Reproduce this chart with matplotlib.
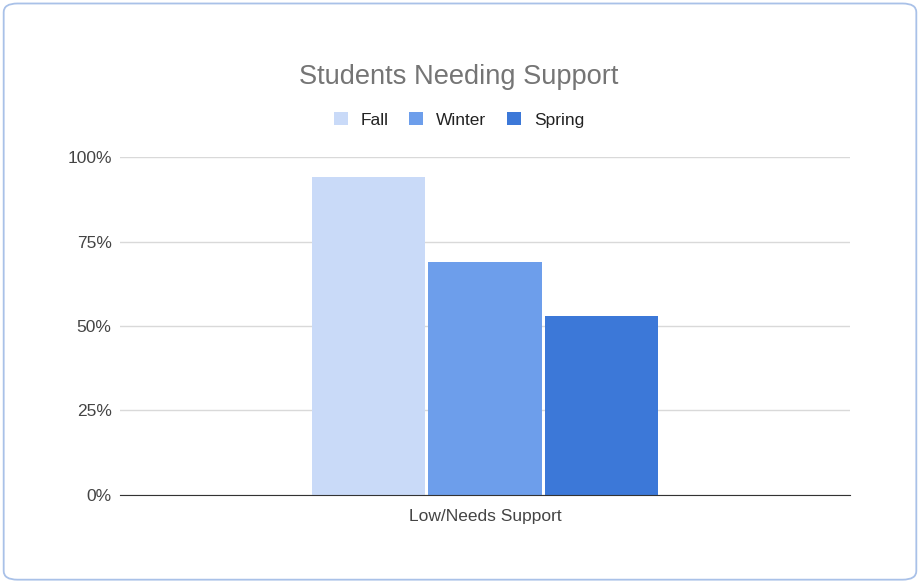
import matplotlib.pyplot as plt
from matplotlib.patches import FancyBboxPatch, Patch
from matplotlib.ticker import PercentFormatter

# Data
category = 'Low/Needs Support'
seasons = ['Fall', 'Winter', 'Spring']
values = [94.1, 69.0, 53.0]
colors = ['#c9daf8', '#6d9eeb', '#3c78d8']

plt.rcParams['font.family'] = ['Liberation Sans', 'DejaVu Sans']

fig = plt.figure(figsize=(9.2, 5.82), dpi=100)
ax = fig.add_axes([0.1304, 0.1495, 0.7935, 0.5807])

# rounded frame around the whole chart
fig.patches.append(FancyBboxPatch((0.004, 0.004), 0.992, 0.990,
                                  boxstyle='round,pad=0,rounding_size=0.015',
                                  transform=fig.transFigure, facecolor='white',
                                  edgecolor='#a9c1e8', linewidth=1.3, zorder=-1))

step = 0.32
width = 0.31
for i, (season, v, c) in enumerate(zip(seasons, values, colors)):
  ax.bar((i - 1) * step, v, width=width, color=c, zorder=2)

ax.set_xlim(-1, 1)
ax.set_ylim(0, 100)
ax.set_yticks([0, 25, 50, 75, 100])
ax.yaxis.set_major_formatter(PercentFormatter(decimals=0))
ax.set_xticks([0])
ax.set_xticklabels([category])
ax.grid(axis='y', color='#d9d9d9', linewidth=1, zorder=0)
for side in ['top', 'right', 'left']:
  ax.spines[side].set_visible(False)
ax.spines['bottom'].set_color('#333333')
ax.spines['bottom'].set_zorder(3)
ax.tick_params(axis='both', length=0, labelsize=12.5, labelcolor='#444444')
ax.tick_params(axis='y', pad=6)
ax.tick_params(axis='x', pad=10)

fig.text(0.499, 0.867, 'Students Needing Support', ha='center', va='center',
         fontsize=19.6, color='#757575')

handles = [Patch(facecolor=c, label=s) for s, c in zip(seasons, colors)]
fig.legend(handles=handles, loc='center', bbox_to_anchor=(0.499, 0.794), ncol=3,
           frameon=False, fontsize=12.5, handlelength=0.8, handleheight=0.8,
           handletextpad=0.75, columnspacing=1.2, labelcolor='#222222')

fig.savefig('out.png', dpi=100, facecolor='white')
